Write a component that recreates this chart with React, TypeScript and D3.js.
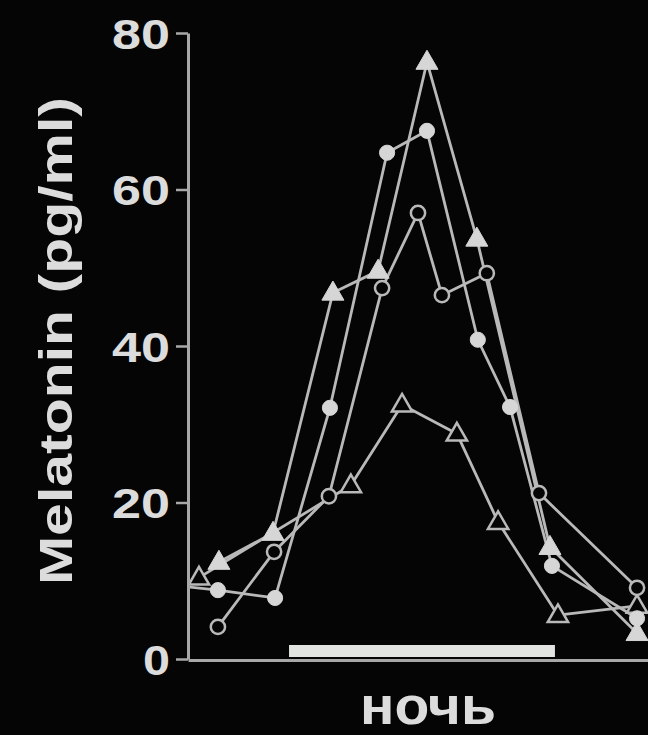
import React, { useRef, useEffect } from 'react';
import * as d3 from 'd3';

// clock hours (values above 24 are the next morning)
const nightHours = [22, 30];
const yTicks = [0, 20, 40, 60, 80];

// subject 1: filled triangles
const tri1Hours = [19.89, 21.52, 23.32, 24.68, 26.15, 27.65, 29.85, 32.47];
const tri1Values = [12.4, 16.1, 46.8, 49.6, 76.3, 53.7, 14.3, 3.3];

// subject 2: filled circles
const circ1Hours = [18.75, 19.86, 21.58, 23.23, 24.95, 26.15, 27.68, 28.65, 29.91, 32.47];
const circ1Values = [9.3, 8.8, 7.8, 32.1, 64.7, 67.5, 40.8, 32.2, 11.9, 5.2];

// subject 3: open circles
const circ2Hours = [19.86, 21.55, 23.2, 24.8, 25.88, 26.6, 27.95, 29.52, 32.47];
const circ2Values = [4.1, 13.7, 20.8, 47.4, 57, 46.5, 49.3, 21.2, 9.1];

// subject 4: open triangles
const tri2Hours = [19.29, 23.86, 25.4, 27.05, 28.29, 30.09, 32.47];
const tri2Values = [10.4, 22.2, 32.5, 28.8, 17.5, 5.6, 6.8];

const series = [
  { name: 's4', hours: tri2Hours, values: tri2Values, shape: 'triangle', filled: false },
  { name: 's3', hours: circ2Hours, values: circ2Values, shape: 'circle', filled: false },
  { name: 's2', hours: circ1Hours, values: circ1Values, shape: 'circle', filled: true },
  { name: 's1', hours: tri1Hours, values: tri1Values, shape: 'triangle', filled: true },
];

const LINE = '#b9b9b9';
const MARK = '#d6d6d6';
const BG = '#050505';

function App() {
  const svgRef = useRef<SVGSVGElement>(null);

  useEffect(() => {
    const width = 648;
    const height = 735;
    const svg = d3.select(svgRef.current).attr('width', width).attr('height', height);
    svg.selectAll('*').remove();

    svg.append('rect').attr('width', width).attr('height', height).attr('fill', BG);

    const x = d3.scaleLinear().domain([18.96, 32.8]).range([188, 648]);
    const y = d3.scaleLinear().domain([0, 80]).range([659, 33]);

    // y axis
    const yAxis = svg
      .append('g')
      .attr('transform', 'translate(188,0)')
      .call(d3.axisLeft(y).tickValues(yTicks).tickSize(12).tickSizeOuter(0).tickPadding(6));
    yAxis.select('.domain').attr('stroke', '#a8a8a8').attr('stroke-width', 3);
    yAxis.selectAll('.tick line').attr('stroke', '#a8a8a8').attr('stroke-width', 2.5);
    yAxis
      .selectAll('.tick text')
      .attr('fill', '#dcdcdc')
      .attr('font-family', 'Liberation Sans, Arial, sans-serif')
      .attr('font-weight', 'bold')
      .attr('font-size', 42)
      .attr('dy', '0.36em')
      .attr('textLength', (d: any) => (String(d).length === 1 ? 27 : 58))
      .attr('lengthAdjust', 'spacingAndGlyphs');

    // x axis: plain line
    const xAxis = svg
      .append('g')
      .attr('transform', 'translate(0,660)')
      .call(d3.axisBottom(x).ticks(0).tickSizeOuter(0));
    xAxis.select('.domain').attr('stroke', '#a8a8a8').attr('stroke-width', 3);

    // night bar
    svg
      .append('rect')
      .attr('x', x(nightHours[0]))
      .attr('y', 645)
      .attr('width', x(nightHours[1]) - x(nightHours[0]))
      .attr('height', 12)
      .attr('fill', '#e2e4e2');

    // clip so lines start at the axis
    svg
      .append('clipPath')
      .attr('id', 'plot-clip')
      .append('rect')
      .attr('x', 190)
      .attr('y', 0)
      .attr('width', width - 190)
      .attr('height', 662);

    const plot = svg.append('g').attr('clip-path', 'url(#plot-clip)');

    const line = d3
      .line<[number, number]>()
      .x((d) => x(d[0]))
      .y((d) => y(d[1]));

    series.forEach((s) => {
      const pts: [number, number][] = s.hours.map((h, i) => [h, s.values[i]]);
      plot
        .append('path')
        .datum(pts)
        .attr('d', line)
        .attr('fill', 'none')
        .attr('stroke', LINE)
        .attr('stroke-width', 2.8)
        .attr('stroke-linejoin', 'round');
    });

    series.forEach((s) => {
      const pts: [number, number][] = s.hours.map((h, i) => [h, s.values[i]]);
      const sym = d3
        .symbol()
        .type(s.shape === 'triangle' ? d3.symbolTriangle : d3.symbolCircle)
        .size(s.shape === 'triangle' ? (s.filled ? 210 : 180) : s.filled ? 180 : 160);
      plot
        .selectAll(`.m-${s.name}`)
        .data(pts)
        .join('path')
        .attr('class', `m-${s.name}`)
        .attr('d', sym as any)
        .attr('transform', (d) => `translate(${x(d[0])},${y(d[1]) + (s.shape === 'triangle' ? 1 : 0)})`)
        .attr('fill', s.filled ? MARK : BG)
        .attr('stroke', s.filled ? MARK : LINE)
        .attr('stroke-width', s.filled ? 1 : 2.5);
    });

    // axis titles
    svg
      .append('text')
      .attr('transform', 'translate(72,341) rotate(-90)')
      .attr('text-anchor', 'middle')
      .attr('fill', '#dcdcdc')
      .attr('font-family', 'Liberation Sans, Arial, sans-serif')
      .attr('font-weight', 'bold')
      .attr('font-size', 46)
      .attr('textLength', 488)
      .attr('lengthAdjust', 'spacingAndGlyphs')
      .text('Melatonin (pg/ml)');

    svg
      .append('text')
      .attr('x', 428)
      .attr('y', 724)
      .attr('text-anchor', 'middle')
      .attr('fill', '#dcdcdc')
      .attr('font-family', 'Liberation Sans, Arial, sans-serif')
      .attr('font-weight', 'bold')
      .attr('font-size', 54)
      .attr('textLength', 136)
      .attr('lengthAdjust', 'spacingAndGlyphs')
      .text('ночь');
  }, []);

  return <svg ref={svgRef} style={{ position: 'absolute', left: 0, top: 0, display: 'block' }} />;
}

export default App;
